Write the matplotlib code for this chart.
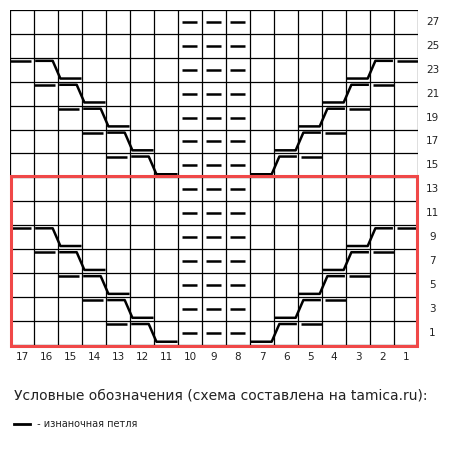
import matplotlib
matplotlib.use("Agg")
import matplotlib.pyplot as plt
from matplotlib.patches import Rectangle

ncols = 17
nrows = 14
col_labels = [str(c) for c in range(17, 0, -1)]
row_labels = [str(r) for r in range(1, 28, 2)]
purl_cols = [10, 9, 8]
# staircase segments: (row label, top col, top col, bottom col)
left_steps = [(23, 17, 16, 15), (21, 16, 15, 14), (19, 15, 14, 13), (17, 14, 13, 12), (15, 13, 12, 11),
              (9, 17, 16, 15), (7, 16, 15, 14), (5, 15, 14, 13), (3, 14, 13, 12), (1, 13, 12, 11)]
right_steps = [(23, 1, 2, 3), (21, 2, 3, 4), (19, 3, 4, 5), (17, 4, 5, 6), (15, 5, 6, 7),
               (9, 1, 2, 3), (7, 2, 3, 4), (5, 3, 4, 5), (3, 4, 5, 6), (1, 5, 6, 7)]

fig = plt.figure(figsize=(4.53, 4.49), dpi=100)
ax = fig.add_axes([0.022, 0.232, 0.901, 0.746])
ax.set_xlim(0, ncols)
ax.set_ylim(0, nrows)
ax.axis('off')

def cx(col):
    return 17 - col
def ry(lbl):
    return (lbl - 1) // 2

for i in range(ncols + 1):
    ax.plot([i, i], [0, nrows], color='black', lw=0.9)
for j in range(nrows + 1):
    ax.plot([0, ncols], [j, j], color='black', lw=0.9)

LW = 1.8
for lbl in range(1, 28, 2):
    for c in purl_cols:
        x = cx(c)
        y = ry(lbl) + 0.5
        ax.plot([x + 0.15, x + 0.8], [y, y], color='black', lw=LW, solid_capstyle='butt')

k = 0.13
for (lbl, a, b, c) in left_steps:
    y0 = ry(lbl)
    top, bot = y0 + 1 - k, y0 + k
    xa, xb, xc = cx(a), cx(b), cx(c)
    ax.plot([xa + 0.02, xa + 0.88], [top, top], color='black', lw=LW, solid_capstyle='butt')
    ax.plot([xb + 0.05, xb + 0.78, xc + 0.1, xc + 0.98], [top, top, bot, bot],
            color='black', lw=LW, solid_capstyle='butt')
for (lbl, a, b, c) in right_steps:
    y0 = ry(lbl)
    top, bot = y0 + 1 - k, y0 + k
    xa, xb, xc = cx(a), cx(b), cx(c)
    ax.plot([xa + 0.98, xa + 0.12], [top, top], color='black', lw=LW, solid_capstyle='butt')
    ax.plot([xb + 0.95, xb + 0.22, xc + 0.9, xc + 0.02], [top, top, bot, bot],
            color='black', lw=LW, solid_capstyle='butt')

ax.add_patch(Rectangle((0.05, -0.05), ncols - 0.1, 7.1, fill=False, edgecolor='#f04848', lw=2.2,
                       clip_on=False, zorder=5))

for j, t in enumerate(row_labels):
    ax.text(ncols + 0.6, j + 0.5, t, ha='center', va='center', fontsize=7.5, color='#222222')
for i, t in enumerate(col_labels):
    ax.text(i + 0.5, -0.5, t, ha='center', va='center', fontsize=7.5, color='#222222')

fig.text(0.03, 0.12, "Условные обозначения (схема составлена на tamica.ru):", fontsize=10,
         color='#222222', va='center')
fig.add_artist(plt.Line2D([0.03, 0.066], [0.055, 0.055], color='black', lw=2, transform=fig.transFigure))
fig.text(0.075, 0.055, " - изнаночная петля", fontsize=7, color='#222222', va='center')

fig.savefig("out.png", dpi=100)
